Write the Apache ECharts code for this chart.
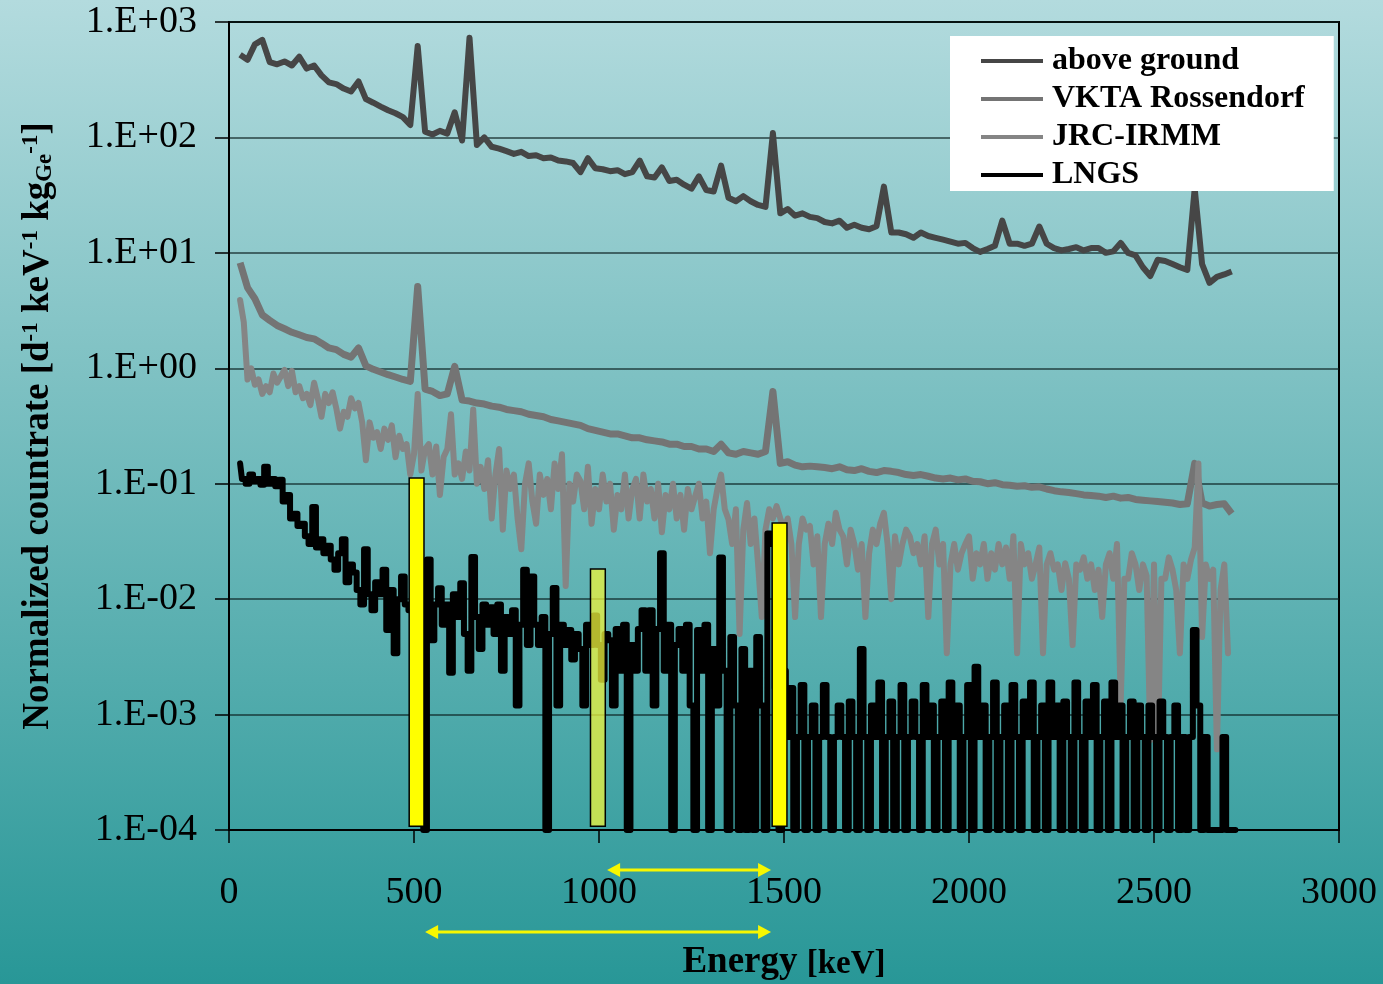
<!DOCTYPE html>
<html>
<head>
<meta charset="utf-8">
<title>Normalized countrate spectra</title>
<script src="https://cdn.jsdelivr.net/npm/echarts@6/dist/echarts.min.js"></script>
<style>
  html, body { margin: 0; padding: 0; }
  #chart { width: 1383px; height: 984px; }
</style>
</head>
<body>
<div id="chart"></div>
<script>
// ---- Spectra (normalized countrate, d^-1 keV^-1 kgGe^-1) ----
// Above ground and VKTA: channels every 20 keV starting at 30 keV
const coarseStartKeV = 30;
const coarseStepKeV = 20;
// JRC-IRMM and LNGS: channels every 10 keV starting at 30 keV
const fineStartKeV = 30;
const fineStepKeV = 10;

const seriesNames = ['above ground', 'VKTA Rossendorf', 'JRC-IRMM', 'LNGS'];

const aboveGround = [
  520, 470, 640, 700, 450,
  430, 455, 420, 500, 395,
  420, 345, 300, 290, 265,
  250, 305, 215, 200, 185,
  172, 162, 150, 128, 620,
  112, 106, 114, 108, 165,
  94, 730, 86, 100, 83,
  80, 76, 72, 75, 69,
  70, 66, 67, 63, 62,
  60, 50, 66, 54, 53,
  51, 52, 48, 50, 63,
  46, 45, 55, 42, 43,
  39, 36, 46, 35, 34,
  57, 30, 28, 31, 28,
  26, 25, 109, 22, 24,
  21, 22, 20.5, 20, 18.5,
  18, 19, 16.5, 17.5, 16.5,
  16, 17, 37.5, 15, 15,
  14.5, 13.5, 15, 14, 13.5,
  13, 12.5, 12, 12.2, 11,
  10.2, 10.8, 11.5, 19, 12,
  12, 11.5, 12, 16.9, 12,
  11, 10.5, 10.8, 11.2, 10.5,
  11, 11, 10, 10.3, 12.2,
  10, 9.5, 7.5, 6.3, 8.7,
  8.5, 8, 7.5, 7.1, 36,
  8, 5.5, 6.2, 6.5, 6.9
];

const vktaRossendorf = [
  8.2, 5.0, 4.0, 2.9, 2.6,
  2.35, 2.2, 2.05, 1.95, 1.85,
  1.8, 1.65, 1.5, 1.45, 1.32,
  1.25, 1.5, 1.05, 0.98, 0.93,
  0.88, 0.84, 0.8, 0.77, 5.1,
  0.66, 0.63, 0.58, 0.6, 1.04,
  0.53, 0.52, 0.5, 0.49, 0.47,
  0.46, 0.44, 0.43, 0.42, 0.4,
  0.39, 0.38, 0.36, 0.35, 0.34,
  0.33, 0.32, 0.3, 0.29, 0.28,
  0.27, 0.27, 0.26, 0.25, 0.25,
  0.24, 0.235, 0.23, 0.22, 0.22,
  0.21, 0.21, 0.2, 0.2, 0.19,
  0.22, 0.185, 0.18, 0.19, 0.185,
  0.18, 0.19, 0.63, 0.15, 0.155,
  0.145, 0.14, 0.142, 0.14, 0.138,
  0.135, 0.14, 0.132, 0.13, 0.135,
  0.128, 0.125, 0.13, 0.128, 0.125,
  0.12, 0.118, 0.12, 0.116, 0.112,
  0.11, 0.112, 0.108, 0.11, 0.105,
  0.104, 0.1, 0.102, 0.098, 0.097,
  0.095, 0.096, 0.093, 0.094, 0.09,
  0.087, 0.085, 0.084, 0.082, 0.08,
  0.079, 0.078, 0.076, 0.078, 0.075,
  0.076, 0.073, 0.072, 0.071, 0.07,
  0.069, 0.068, 0.066, 0.067, 0.15,
  0.068, 0.064, 0.066, 0.067, 0.055
];

const jrcIrmm = [
  3.9, 2.5, 0.8, 1.0, 0.72, 0.8, 0.6, 0.7, 0.62, 0.9,
  0.75, 0.85, 0.97, 0.7, 0.95, 0.62, 0.7, 0.55, 0.6, 0.48,
  0.75, 0.55, 0.38, 0.6, 0.5, 0.62, 0.45, 0.3, 0.42, 0.38,
  0.55, 0.45, 0.5, 0.34, 0.16, 0.34, 0.25, 0.28, 0.2, 0.3,
  0.24, 0.32, 0.17, 0.26, 0.2, 0.22, 0.12, 0.18, 0.6, 0.13,
  0.2, 0.22, 0.12, 0.21, 0.08, 0.17, 0.2, 0.4, 0.12, 0.15,
  0.11, 0.19, 0.13, 0.44, 0.1, 0.14, 0.09, 0.16, 0.05, 0.12,
  0.2, 0.04, 0.13, 0.09, 0.12, 0.05, 0.027, 0.1, 0.15, 0.07,
  0.045, 0.12, 0.08, 0.11, 0.06, 0.15, 0.09, 0.18, 0.013, 0.1,
  0.07, 0.12, 0.105, 0.06, 0.14, 0.045, 0.09, 0.06, 0.12, 0.07,
  0.1, 0.04, 0.08, 0.06, 0.12, 0.05, 0.09, 0.11, 0.05, 0.12,
  0.07, 0.09, 0.05, 0.1, 0.038, 0.08, 0.06, 0.1, 0.05, 0.08,
  0.04, 0.09, 0.06, 0.078, 0.1, 0.05, 0.07, 0.025, 0.06, 0.09,
  0.12, 0.06, 0.049, 0.03, 0.06, 0.005, 0.04, 0.068, 0.03, 0.05,
  0.02, 0.007, 0.04, 0.06, 0.05, 0.064, 0.05, 0.04, 0.05, 0.03,
  0.007, 0.03, 0.05, 0.04, 0.043, 0.02, 0.035, 0.007, 0.03, 0.045,
  0.03, 0.056, 0.04, 0.035, 0.02, 0.04, 0.03, 0.018, 0.03, 0.007,
  0.025, 0.04, 0.03, 0.045, 0.056, 0.03, 0.01, 0.035, 0.02, 0.03,
  0.04, 0.035, 0.025, 0.03, 0.02, 0.035, 0.007, 0.03, 0.04, 0.02,
  0.03, 0.0034, 0.02, 0.03, 0.018, 0.025, 0.03, 0.035, 0.015, 0.025,
  0.02, 0.03, 0.015, 0.025, 0.018, 0.03, 0.02, 0.028, 0.015, 0.035,
  0.0034, 0.03, 0.02, 0.025, 0.015, 0.02, 0.028, 0.0034, 0.02, 0.025,
  0.018, 0.02, 0.012, 0.0205, 0.015, 0.004, 0.02, 0.018, 0.023, 0.015,
  0.02, 0.012, 0.018, 0.007, 0.02, 0.025, 0.015, 0.03, 0.0013, 0.015,
  0.015, 0.025, 0.02, 0.012, 0.02, 0.016, 0.0006, 0.02, 0.00046, 0.015,
  0.015, 0.023, 0.018, 0.012, 0.0034, 0.02, 0.015, 0.022, 0.028, 0.15,
  0.0047, 0.02, 0.015, 0.018, 0.0005, 0.012, 0.02, 0.0034
];

const lngs = [
  0.15, 0.11, 0.1, 0.12, 0.105, 0.11, 0.098, 0.14, 0.1, 0.11,
  0.095, 0.108, 0.07, 0.08, 0.05, 0.055, 0.043, 0.045, 0.035, 0.03,
  0.063, 0.028, 0.033, 0.025, 0.029, 0.022, 0.018, 0.025, 0.033, 0.014,
  0.02, 0.017, 0.012, 0.009, 0.027, 0.011, 0.008, 0.014, 0.011, 0.018,
  0.0054, 0.012, 0.0034, 0.01, 0.0157, 0.009, 0.008, 0.011, 0.009, 0.012,
  0.0001, 0.022, 0.0044, 0.009, 0.0124, 0.006, 0.009, 0.0023, 0.011, 0.007,
  0.0137, 0.005, 0.0024, 0.0232, 0.007, 0.0037, 0.009, 0.006, 0.0085, 0.005,
  0.009, 0.0024, 0.007, 0.005, 0.008, 0.0012, 0.006, 0.018, 0.004, 0.0157,
  0.006, 0.004, 0.007, 0.0001, 0.005, 0.0125, 0.0012, 0.006, 0.004, 0.0054,
  0.003, 0.005, 0.0037, 0.0012, 0.006, 0.004, 0.0072, 0.004, 0.002, 0.005,
  0.0044, 0.0012, 0.0055, 0.0024, 0.006, 0.0001, 0.004, 0.0024, 0.0055, 0.008,
  0.0024, 0.008, 0.0012, 0.0055, 0.025, 0.0024, 0.006, 0.0001, 0.004, 0.0055,
  0.0024, 0.006, 0.0012, 0.0001, 0.0054, 0.0024, 0.006, 0.0001, 0.0037, 0.0012,
  0.023, 0.0024, 0.0001, 0.0047, 0.0012, 0.0001, 0.0037, 0.0001, 0.0024, 0.0001,
  0.0047, 0.0012, 0.0001, 0.037, 0.03, 0.0017, 0.0001, 0.0024, 0.00064, 0.0017,
  0.0001, 0.00064, 0.0018, 0.0001, 0.00064, 0.0012, 0.0001, 0.00064, 0.0018, 0.00064,
  0.0001, 0.00064, 0.0012, 0.00064, 0.0001, 0.0013, 0.00064, 0.0001, 0.0037, 0.00064,
  0.0001, 0.0012, 0.00064, 0.0019, 0.0001, 0.00064, 0.0013, 0.0001, 0.00064, 0.0018,
  0.0001, 0.00064, 0.0013, 0.00064, 0.0001, 0.0018, 0.00064, 0.0012, 0.0001, 0.00064,
  0.0013, 0.0001, 0.0019, 0.00064, 0.0012, 0.0001, 0.00064, 0.0018, 0.0001, 0.0026,
  0.00064, 0.0012, 0.0001, 0.00064, 0.0019, 0.0001, 0.00064, 0.0012, 0.0001, 0.0018,
  0.00064, 0.0001, 0.0013, 0.00064, 0.0019, 0.0001, 0.00064, 0.0012, 0.0001, 0.0019,
  0.00064, 0.0012, 0.0001, 0.0013, 0.00064, 0.0001, 0.0019, 0.00064, 0.0001, 0.0013,
  0.00064, 0.0018, 0.0001, 0.00064, 0.0013, 0.0001, 0.0019, 0.00064, 0.0012, 0.0001,
  0.00064, 0.0013, 0.0001, 0.0012, 0.00064, 0.0001, 0.0012, 0.00064, 0.0001, 0.0013,
  0.00064, 0.0001, 0.00064, 0.0012, 0.0001, 0.00064, 0.0001, 0.00064, 0.0054, 0.0012,
  0.0001, 0.00064, 0.0001, 0.0001, 0.0001, 0.0001, 0.00064, 0.0001, 0.0001, 0.0001
];

// Highlighted energy windows (centre keV, top countrate)
const windowCentersKeV = [507, 997, 1488];
const windowTops = [0.112, 0.0182, 0.0457];
const windowWidthKeV = 40;
const windowBase = 1.08e-4;

// Energy ranges marked with double arrows below the axis
const arrowFromKeV = [1022, 530];
const arrowToKeV = [1465, 1465];
const arrowLevels = [4.5e-5, 1.31e-5];

// Axis ticks
const yTickExponents = [-4, -3, -2, -1, 0, 1, 2, 3];
const yTickLabels = ['1.E-04', '1.E-03', '1.E-02', '1.E-01', '1.E+00', '1.E+01', '1.E+02', '1.E+03'];
const xTickLabels = ['0', '500', '1000', '1500', '2000', '2500', '3000'];
const xTickValues = [0, 500, 1000, 1500, 2000, 2500, 3000];

// ---- Build ----
const toPairs = (values, start, step) => values.map((v, i) => [start + i * step, v]);

const serif = "'Liberation Serif', 'Times New Roman', serif";
const windowStyles = [
  { fill: '#ffff00', stroke: '#000', lineWidth: 1.5 },
  { fill: 'rgba(236, 242, 60, 0.76)', stroke: '#000', lineWidth: 1.5 },
  { fill: '#ffff00', stroke: '#000', lineWidth: 1.5 }
];
const arrowColor = '#f7f700';

const chart = echarts.init(document.getElementById('chart'), null, { renderer: 'canvas' });

chart.setOption({
  animation: false,
  backgroundColor: new echarts.graphic.LinearGradient(0, 0, 0, 1, [
    { offset: 0, color: '#b3dbde' },
    { offset: 1, color: '#289797' }
  ]),
  grid: {
    left: 229, top: 22, right: 44, bottom: 154,
    outerBoundsMode: 'none',
    containLabel: false,
    show: true, borderColor: '#000', borderWidth: 2, backgroundColor: 'transparent'
  },
  legend: {
    data: seriesNames,
    orient: 'vertical',
    left: 950, top: 36,
    padding: [9, 29, 0, 31],
    itemGap: 6,
    itemWidth: 62,
    itemHeight: 4,
    icon: 'rect',
    backgroundColor: '#ffffff',
    textStyle: {
      fontFamily: serif, fontWeight: 'bold', fontSize: 32, color: '#000',
      lineHeight: 32, padding: [0, 0, 0, 4]
    }
  },
  xAxis: {
    type: 'value',
    min: 0, max: 3000, interval: 500,
    name: '{big|Energy }{small|[keV]}',
    nameLocation: 'middle',
    nameGap: 114,
    nameTextStyle: {
      rich: {
        big: { fontFamily: serif, fontWeight: 'bold', fontSize: 37, color: '#000', verticalAlign: 'bottom' },
        small: { fontFamily: serif, fontWeight: 'bold', fontSize: 33, color: '#000', verticalAlign: 'bottom' }
      }
    },
    axisLine: { show: true, onZero: false, lineStyle: { color: '#000', width: 2 } },
    axisTick: { show: true, inside: false, length: 13, lineStyle: { color: '#000', width: 1.5 } },
    axisLabel: {
      margin: 44, fontFamily: serif, fontSize: 38, color: '#000',
      formatter: v => xTickLabels[xTickValues.indexOf(v)]
    },
    splitLine: { show: false }
  },
  yAxis: {
    type: 'log',
    logBase: 10,
    min: 1e-4, max: 1e3,
    splitNumber: 7,
    name: '{t|Normalized countrate [d}{sup|-1}{t| keV}{sup|-1}{t| kg}{sub|Ge}{sup|-1}{t|]}',
    nameLocation: 'middle',
    nameRotate: 90,
    nameGap: 172,
    nameTextStyle: {
      rich: {
        t: { fontFamily: serif, fontWeight: 'bold', fontSize: 37, color: '#000', verticalAlign: 'middle' },
        sup: { fontFamily: serif, fontWeight: 'bold', fontSize: 23, color: '#000', verticalAlign: 'top' },
        sub: { fontFamily: serif, fontWeight: 'bold', fontSize: 23, color: '#000', verticalAlign: 'bottom' }
      }
    },
    axisLine: { show: true, lineStyle: { color: '#000', width: 2 } },
    axisTick: { show: true, inside: false, length: 14, lineStyle: { color: '#000', width: 1.5 } },
    minorTick: { show: false },
    axisLabel: {
      margin: 32, fontFamily: serif, fontSize: 38, color: '#000',
      formatter: v => {
        const idx = yTickExponents.indexOf(Math.round(Math.log10(v)));
        return idx >= 0 ? yTickLabels[idx] : '';
      }
    },
    splitLine: { show: true, lineStyle: { color: 'rgba(10, 30, 30, 0.8)', width: 1.5 } }
  },
  series: [
    {
      name: seriesNames[0], type: 'line', symbol: 'none',
      data: toPairs(aboveGround, coarseStartKeV, coarseStepKeV),
      lineStyle: { color: '#464646', width: 6, join: 'round' },
      itemStyle: { color: '#464646' }
    },
    {
      name: seriesNames[1], type: 'line', symbol: 'none',
      data: toPairs(vktaRossendorf, coarseStartKeV, coarseStepKeV),
      lineStyle: { color: '#747474', width: 7, join: 'round' },
      itemStyle: { color: '#747474' }
    },
    {
      name: seriesNames[2], type: 'line', symbol: 'none',
      data: toPairs(jrcIrmm, fineStartKeV, fineStepKeV),
      lineStyle: { color: '#858585', width: 6, join: 'round', cap: 'round' },
      itemStyle: { color: '#858585' }
    },
    {
      name: seriesNames[3], type: 'line', symbol: 'none', step: 'middle',
      data: toPairs(lngs, fineStartKeV, fineStepKeV),
      lineStyle: { color: '#000000', width: 6, join: 'round', cap: 'round' },
      itemStyle: { color: '#000000' }
    },
    {
      name: 'windows', type: 'custom',
      data: windowCentersKeV.map((c, i) => [c, windowTops[i]]),
      renderItem: (params, api) => {
        const c = api.value(0);
        const top = api.value(1);
        const p0 = api.coord([c - windowWidthKeV / 2, top]);
        const p1 = api.coord([c + windowWidthKeV / 2, windowBase]);
        return {
          type: 'rect',
          shape: { x: p0[0], y: p0[1], width: p1[0] - p0[0], height: p1[1] - p0[1] },
          style: windowStyles[params.dataIndex]
        };
      },
      z: 5
    },
    {
      name: 'ranges', type: 'custom', clip: false,
      data: arrowFromKeV.map((a, i) => [a, arrowToKeV[i], arrowLevels[i]]),
      renderItem: (params, api) => {
        const a = api.coord([api.value(0), api.value(2)]);
        const b = api.coord([api.value(1), api.value(2)]);
        const head = 13, half = 7;
        return {
          type: 'group',
          children: [
            { type: 'line', shape: { x1: a[0] + head - 1, y1: a[1], x2: b[0] - head + 1, y2: b[1] },
              style: { stroke: arrowColor, lineWidth: 3 } },
            { type: 'polygon', shape: { points: [[a[0], a[1]], [a[0] + head, a[1] - half], [a[0] + head, a[1] + half]] },
              style: { fill: arrowColor } },
            { type: 'polygon', shape: { points: [[b[0], b[1]], [b[0] - head, b[1] - half], [b[0] - head, b[1] + half]] },
              style: { fill: arrowColor } }
          ]
        };
      },
      z: 5
    }
  ]
});
</script>
</body>
</html>
